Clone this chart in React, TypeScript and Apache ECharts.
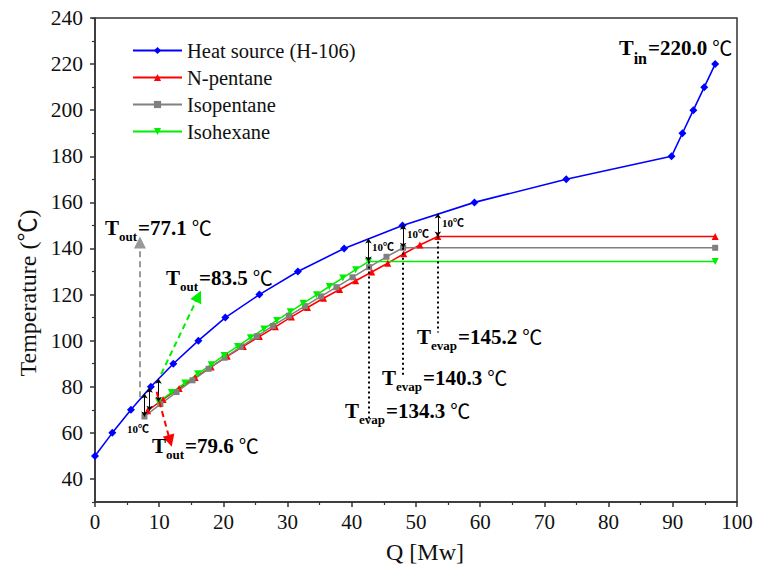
import React, { useEffect, useRef } from "react";
import * as echarts from "echarts";

const SERIF = "Liberation Serif, Times New Roman, Noto Sans CJK SC, serif";
const CJK = "Noto Sans CJK SC, DejaVu Sans, sans-serif";

// ---- data ----
const seriesNames = ["Heat source (H-106)", "N-pentane", "Isopentane", "Isohexane"];

const heatQ = [0, 2.7, 5.6, 8.7, 12.2, 16.1, 20.3, 25.6, 31.6, 38.8, 47.9, 59.1, 73.4, 89.8, 91.5, 93.2, 94.9, 96.6];
const heatT = [50, 60, 70, 80, 90, 100, 110, 120, 130, 140, 150, 160, 170, 180, 190, 200, 210, 220];

const pentaneQ = [8.2, 10.6, 13.1, 15.6, 18.1, 20.6, 23.1, 25.6, 28.1, 30.6, 33.1, 35.6, 38.1, 40.6, 43.1, 45.6, 48.1, 50.6, 53.4, 96.6];
const pentaneT = [69.6, 74.5, 79.3, 84.0, 88.6, 93.2, 97.5, 101.8, 106.0, 110.3, 114.4, 118.4, 122.2, 126.0, 129.8, 133.6, 137.7, 141.5, 145.2, 145.2];

const isopentaneQ = [7.7, 10.2, 12.7, 15.2, 17.7, 20.2, 22.7, 25.2, 27.7, 30.2, 32.7, 35.2, 37.6, 40.1, 42.7, 45.4, 48.0, 96.6];
const isopentaneT = [67.1, 72.5, 77.7, 82.8, 87.8, 92.6, 97.3, 101.9, 106.4, 110.8, 115.0, 119.2, 123.2, 127.5, 131.9, 136.4, 140.3, 140.3];

const isohexaneQ = [9.9, 11.9, 14.0, 16.0, 18.1, 20.1, 22.2, 24.2, 26.3, 28.3, 30.4, 32.4, 34.5, 36.5, 38.6, 40.6, 42.6, 96.6];
const isohexaneT = [73.5, 77.5, 81.6, 85.6, 89.6, 93.6, 97.5, 101.3, 105.1, 108.8, 112.5, 116.2, 119.9, 123.5, 127.2, 130.8, 134.3, 134.3];

const yTickValues = [40, 60, 80, 100, 120, 140, 160, 180, 200, 220, 240];

// annotation values: evaporation points (N-pentane, isopentane, isohexane)
const evapQ = [53.4, 48.0, 42.6];
const evapT = [145.2, 140.3, 134.3];
const evapDotEndT = [103.5, 85.2, 65.7];
// heat-source outlet / pinch (N-pentane, isopentane, isohexane)
const pinchQ = [8.5, 7.7, 9.9];
const outT = [79.6, 77.1, 83.5];
const pinchDT = 10;
// dashed pointer arrows (N-pentane, isopentane, isohexane)
const pointerStart = [[9.6, 77.8], [7.0, 75.5], [10.3, 85.5]];
const pointerTip = [[11.7, 56.5], [7.0, 142.6], [16.1, 119.3]];

const colors = ["#0000ff", "#ff0000", "#808080", "#00ee00"];

function measure(text: string, font: string): number {
  const c = document.createElement("canvas").getContext("2d");
  if (!c) return text.length * 10;
  c.font = font;
  return c.measureText(text).width;
}

function tempLabel(x: number, base: number, sub: string, value: string, tSize = 21, subSize = 13, subDrop = 6, vSize = 21) {
  const wT = measure("T", `bold ${tSize}px ${SERIF}`);
  const wS = measure(sub, `bold ${subSize}px ${SERIF}`);
  const wV = measure(value, `bold ${vSize}px ${SERIF}`);
  const mk = (text: string, px: number, py: number, size: number, family: string, weight: string) => ({
    type: "text",
    x: px,
    y: py,
    z: 100,
    style: { text, fontSize: size, fontFamily: family, fontWeight: weight, fill: "#000", align: "left", verticalAlign: "middle" },
  });
  const vx = x + wT + wS + 1;
  return [
    mk("T", x, base - 0.33 * tSize, tSize, SERIF, "bold"),
    mk(sub, x + wT, base + subDrop - 0.33 * subSize, subSize, SERIF, "bold"),
    mk(value, vx, base - 0.33 * vSize, vSize, SERIF, "bold"),
    mk("℃", vx + wV + 5, base - 0.36 * 20, 20, CJK, "normal"),
  ];
}

function smallLabel(x: number, y: number) {
  return {
    type: "text",
    x,
    y,
    z: 100,
    style: { text: "10℃", fontSize: 11, fontFamily: SERIF, fontWeight: "bold", fill: "#000", align: "left", verticalAlign: "middle" },
  };
}

function pairs(q: number[], t: number[]) {
  return q.map((v, i) => [v, t[i]]);
}

export default function App() {
  const ref = useRef<HTMLDivElement>(null);
  useEffect(() => {
    if (!ref.current) return;
    const chart = echarts.init(ref.current, null, { renderer: "svg" });

    const dotted = { color: "#000", width: 2, type: [2, 3] };
    const thin = { color: "#000", width: 1, type: "solid" };
    const markData: any[] = [];
    evapQ.forEach((q, i) => {
      markData.push([
        { coord: [q, evapT[i]], symbol: "none", lineStyle: dotted },
        { coord: [q, evapDotEndT[i]], symbol: "none", lineStyle: dotted },
      ]);
      markData.push([
        { coord: [q, evapT[i]], symbol: "arrow", symbolSize: 5, lineStyle: thin },
        { coord: [q, evapT[i] + pinchDT], symbol: "arrow", symbolSize: 5, lineStyle: thin },
      ]);
    });
    pinchQ.forEach((q, i) => {
      markData.push([
        { coord: [q, outT[i] - pinchDT], symbol: "arrow", symbolSize: 5, lineStyle: thin },
        { coord: [q, outT[i]], symbol: "arrow", symbolSize: 5, lineStyle: thin },
      ]);
    });
    [1, 2, 3].forEach((ci, i) => {
      const ls = { color: ci === 2 ? "#999999" : colors[ci], width: 2, type: [6, 4] };
      markData.push([
        { coord: pointerStart[i], symbol: "none", lineStyle: ls },
        { coord: pointerTip[i], symbol: "triangle", symbolSize: 12, lineStyle: ls },
      ]);
    });

    const graphics: any[] = [
      ...tempLabel(619, 55, "in", "=220.0", 22, 16, 9, 21),
      ...tempLabel(105, 235, "out", "=77.1"),
      ...tempLabel(166, 285, "out", "=83.5"),
      ...tempLabel(152, 453, "out", "=79.6"),
      ...tempLabel(417, 344, "evap", "=145.2"),
      ...tempLabel(382, 385, "evap", "=140.3"),
      ...tempLabel(345, 418, "evap", "=134.3"),
      smallLabel(127, 429),
      smallLabel(442, 223),
      smallLabel(407, 234),
      smallLabel(372, 247),
    ];

    const axisLineStyle = { color: "#333", width: 1.5 };
    chart.setOption({
      animation: false,
      backgroundColor: "#fff",
      grid: { left: 95, right: 21, top: 18, bottom: 71, show: true, borderColor: "#333", borderWidth: 1.5, backgroundColor: "transparent" },
      legend: {
        data: seriesNames,
        orient: "vertical",
        left: 127,
        top: 35,
        itemWidth: 49,
        itemHeight: 9,
        itemGap: 6,
        textStyle: { fontFamily: SERIF, fontSize: 20.5, color: "#111", lineHeight: 21 },
      },
      xAxis: {
        type: "value",
        min: 0,
        max: 100,
        interval: 10,
        name: "Q [Mw]",
        nameLocation: "middle",
        nameGap: 38,
        nameTextStyle: { fontFamily: SERIF, fontSize: 24, color: "#111", padding: [0, 0, 0, 18] },
        axisLine: { lineStyle: axisLineStyle },
        axisTick: { show: true, length: 5, lineStyle: axisLineStyle },
        minorTick: { show: true, splitNumber: 2, length: 3, lineStyle: { color: "#333", width: 1.2 } },
        axisLabel: { fontFamily: SERIF, fontSize: 21, color: "#111", margin: 9 },
        splitLine: { show: false },
      },
      yAxis: [
        {
          type: "value",
          min: 30,
          max: 240,
          interval: 10,
          name: "Temperature (℃)",
          nameLocation: "middle",
          nameGap: 52,
          nameTextStyle: { fontFamily: SERIF, fontSize: 24, color: "#111", padding: [0, 66, 0, 0] },
          axisLine: { lineStyle: axisLineStyle },
          axisTick: { show: true, length: 5, lineStyle: axisLineStyle, customValues: yTickValues },
          axisLabel: {
            fontFamily: SERIF,
            fontSize: 21.5,
            color: "#111",
            margin: 12,
            customValues: yTickValues,
            formatter: (v: number) => (v % 20 === 0 ? String(v) : ""),
          },
          splitLine: { show: false },
        },
        {
          type: "value",
          min: 30,
          max: 240,
          interval: 20,
          position: "left",
          axisLine: { show: false },
          axisTick: { show: true, length: 3, lineStyle: { color: "#333", width: 1.2 } },
          axisLabel: { show: false },
          splitLine: { show: false },
        },
      ],
      series: [
        {
          name: seriesNames[0],
          type: "line",
          data: pairs(heatQ, heatT),
          symbol: "diamond",
          symbolSize: 8,
          itemStyle: { color: colors[0] },
          lineStyle: { color: colors[0], width: 1.6 },
          z: 3,
          markLine: { silent: true, animation: false, label: { show: false }, emphasis: { disabled: true }, data: markData },
        },
        {
          name: seriesNames[1],
          type: "line",
          data: pairs(pentaneQ, pentaneT),
          symbol: "triangle",
          symbolSize: 7,
          itemStyle: { color: colors[1] },
          lineStyle: { color: colors[1], width: 1.5 },
          z: 2,
        },
        {
          name: seriesNames[2],
          type: "line",
          data: pairs(isopentaneQ, isopentaneT),
          symbol: "rect",
          symbolSize: 6,
          itemStyle: { color: colors[2] },
          lineStyle: { color: colors[2], width: 1.5 },
          z: 2,
        },
        {
          name: seriesNames[3],
          type: "line",
          data: pairs(isohexaneQ, isohexaneT),
          symbol: "path://M0,0L10,0L5,9Z",
          symbolSize: 7,
          itemStyle: { color: colors[3] },
          lineStyle: { color: colors[3], width: 1.5 },
          z: 2,
        },
      ],
      graphic: graphics,
    });
    return () => chart.dispose();
  }, []);
  return <div ref={ref} style={{ width: 758, height: 573, position: "absolute", left: 0, top: 0 }} />;
}
